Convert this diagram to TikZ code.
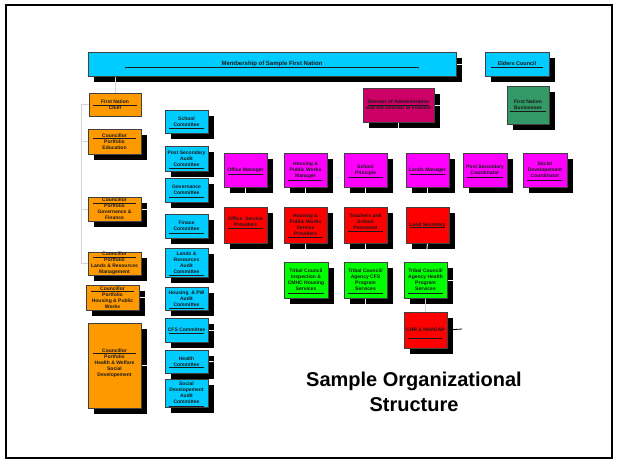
\documentclass[tikz,border=0pt]{standalone}
\usepackage{fontspec}
\setmainfont{Liberation Sans}
\pgfdeclarelayer{shadowlayer}
\pgfdeclarelayer{linelayer}
\pgfsetlayers{shadowlayer,linelayer,main}
\definecolor{cyanbox}{HTML}{00CCFF}
\definecolor{orangebox}{HTML}{FF9900}
\definecolor{magbox}{HTML}{FF00FF}
\definecolor{darkmag}{HTML}{CC0066}
\definecolor{darkgreen}{HTML}{339966}
\definecolor{redbox}{HTML}{FF0000}
\definecolor{greenbox}{HTML}{00FF00}
\definecolor{boxline}{HTML}{404040}
\newcommand\mkbox[7]{\node[box,fill=#2,minimum width=#5pt,minimum height=#6pt] (#1) at (#3,#4) {#7};}
\newcommand\ulbox[3]{\draw[uline] ([shift={(#3,-#2)}]#1.south west) -- ([shift={(-#3,-#2)}]#1.south east);}
\begin{document}
\begin{tikzpicture}[x=1pt,y=-1pt,
  box/.style={draw=boxline,line width=0.8pt,inner sep=0pt,align=center,
    font=\fontsize{5}{6}\selectfont\bfseries,text=black!90},
  uline/.style={line width=0.7pt,black!90},
  conn/.style={draw=gray!35,line width=0.8pt},
  wconn/.style={draw=white,line width=0.9pt},
  shadowfill/.style={fill=black}]
\useasboundingbox (0,0) rectangle (618,463);
\draw[line width=1.2pt] (6,5) rectangle (612,458);

% top row
\node[box,fill=cyanbox,minimum width=368pt,minimum height=24pt,font=\fontsize{6}{7}\selectfont\bfseries] (mem) at (272,64) {Membership of Sample First Nation};
\node[box,fill=cyanbox,minimum width=64pt,minimum height=24pt,font=\fontsize{5.5}{6.5}\selectfont\bfseries] (elders) at (517,64) {Elders Council};

% councillors
\mkbox{chief}{orangebox}{115}{104.5}{52}{23}{First Nation\\Chief}
\mkbox{edu}{orangebox}{114.5}{141.5}{53}{25}{Councillor\\Portfolio\\Education}
\mkbox{gov}{orangebox}{114.5}{209}{53}{24}{Councillor\\Portfolio\\Governance \&\\Finance}
\mkbox{lands}{orangebox}{114.5}{263.5}{53}{23}{Councillor\\Portfolio\\Lands \& Resources\\Management}
\mkbox{hous}{orangebox}{112.5}{297.5}{53}{25}{Councillor\\Portfolio\\Housing \& Public\\Works}
\mkbox{health}{orangebox}{114.5}{365.5}{53}{85}{Councillor\\Portfolio\\Health \& Welfare\\Social\\Developement\\~}

% committees
\mkbox{c1}{cyanbox}{186.5}{121.5}{43}{23}{School\\Committee}
\mkbox{c2}{cyanbox}{186.5}{158.5}{43}{25}{Post Secondary\\Audit\\Committee}
\mkbox{c3}{cyanbox}{186.5}{190}{43}{24}{Governance\\Committee}
\mkbox{c4}{cyanbox}{186.5}{226}{43}{24}{Finace\\Committee}
\mkbox{c5}{cyanbox}{186.5}{262.5}{43}{29}{Lands \&\\Resources\\Audit\\Committee}
\mkbox{c6}{cyanbox}{186.5}{298.5}{43}{23}{Housing \ \& PW\\Audit\\Committee}
\mkbox{c7}{cyanbox}{186.5}{330}{43}{24}{CFS Committee}
\mkbox{c8}{cyanbox}{186.5}{361.5}{43}{23}{Health\\Committee}
\mkbox{c9}{cyanbox}{186.5}{393}{43}{28}{Social\\Developement\\Audit\\Committee}

% administration
\mkbox{dir}{darkmag}{398.5}{105}{71}{34}{Director of Administration\\and the Director of Finance}
\mkbox{fnb}{darkgreen}{528}{105}{42}{38}{First Nation\\Businesses}

\mkbox{om}{magbox}{245.5}{170}{43}{34}{Office Manager}
\mkbox{hpw}{magbox}{305.5}{170}{43}{34}{Housing \&\\Public Works\\Manager}
\mkbox{sp}{magbox}{365.5}{170}{43}{34}{School\\Principle}
\mkbox{lm}{magbox}{427.5}{170}{43}{34}{Lands Manager}
\mkbox{psc}{magbox}{485}{170}{44}{34}{Post Secondary\\Coordinator}
\mkbox{sdc}{magbox}{545}{170}{44}{34}{Social\\Developement\\Coordinator}

\mkbox{osp}{redbox}{245.5}{225}{43}{36}{Office \ Service\\Providers\\~}
\mkbox{hsp}{redbox}{305.5}{225}{43}{36}{Housing \&\\Public Works\\Service\\Providers}
\mkbox{tsp}{redbox}{365.5}{225}{43}{36}{Teachers and\\School\\Personnel\\~}
\mkbox{ls}{redbox}{427.5}{225}{43}{36}{Land Secretary}

\mkbox{tci}{greenbox}{306}{280}{44}{36}{Tribal Council\\Inspection \&\\CMHC Housing\\Services}
\mkbox{tcc}{greenbox}{365.5}{280}{43}{36}{Tribal Council/\\Agency CFS\\Program\\Services}
\mkbox{tch}{greenbox}{425.5}{280}{43}{36}{Tribal Council/\\Agency Health\\Program\\Services}
\mkbox{chr}{redbox}{425.5}{330}{43}{36}{CHR \& NNADAP}

% title
\node[font=\fontsize{20}{25}\selectfont\bfseries,align=center] (title) at (414,392) {Sample Organizational\\Structure};

% underlines
\ulbox{mem}{9}{37}
\ulbox{elders}{9}{6}
\ulbox{chief}{11}{4}
\ulbox{edu}{16}{5}
\ulbox{gov}{18}{5}
\ulbox{lands}{18}{5}
\ulbox{hous}{19}{5}
\ulbox{health}{55}{5}
\ulbox{c1}{5}{4}
\ulbox{c2}{3}{4}
\ulbox{c3}{5}{4}
\ulbox{c4}{5}{4}
\ulbox{c5}{2}{4}
\ulbox{c6}{2}{4}
\ulbox{c7}{9}{4}
\ulbox{c8}{6}{4}
\ulbox{c9}{1.5}{4}
\ulbox{dir}{17}{5}
\ulbox{fnb}{13}{3}
\ulbox{om}{13}{4}
\ulbox{hpw}{7}{4}
\ulbox{sp}{10}{4}
\ulbox{lm}{13}{4}
\ulbox{psc}{10}{4}
\ulbox{sdc}{7}{4}
\ulbox{osp}{15}{4}
\ulbox{hsp}{6}{4}
\ulbox{tsp}{12}{4}
\ulbox{ls}{16}{4}
\ulbox{tci}{5}{4}
\ulbox{tcc}{5}{4}
\ulbox{tch}{5}{4}
\ulbox{chr}{10}{4}

% connectors
\coordinate (bx) at (81,104);
\coordinate (cstub1) at (220,330);
\coordinate (cstub2) at (220,362);
\coordinate (dbus) at (398.5,140);
\coordinate (tccend) at (365.5,306);
\coordinate (tchend) at (458,280);
\coordinate (chrend) at (462,329);
\begin{pgfonlayer}{linelayer}
\draw[conn] (chief.north |- mem.south) -- (chief.north);
\draw[conn] (chief.west) -- (chief.west -| bx) -- (lands.west -| bx) -- (lands.west);
\draw[conn] (edu.west -| bx) -- (edu.west);
\draw[conn] (gov.west -| bx) -- (gov.west);
\draw[wconn] (mem.east) -- (elders.west);
\draw[wconn] (gov.east) -- (gov.east -| c4.west);
\draw[wconn] (hous.east) -- (hous.east -| c6.west);
\draw[wconn] (health.east) -- (health.east -| c8.west);
\draw[wconn] (c7.east) -- (cstub1);
\draw[wconn] (c8.east) -- (cstub2);
\draw[wconn] (dir.south) -- (dbus);
\draw[wconn] (dir.east) -- (fnb.west);
\draw[wconn] (om.south) -- (osp.north);
\draw[wconn] (hpw.south) -- (hsp.north);
\draw[wconn] (sp.south) -- (tsp.north);
\draw[wconn] (lm.south) -- (ls.north);
\draw[wconn] (hsp.south) -- (tci.north);
\draw[wconn] (tsp.south) -- (tcc.north);
\draw[wconn] (ls.south) -- (tch.north);
\draw[wconn] (tcc.south) -- (tccend);
\draw[wconn] (tch.east) -- (tchend);
\draw[conn] (tch.south) -- (chr.north);
\draw[line width=0.8pt,black] (chr.east) -- (chrend);
\end{pgfonlayer}

% shadows
\begin{pgfonlayer}{shadowlayer}
\foreach \n in {mem,elders,edu,gov,lands,hous,health,c1,c2,c3,c4,c5,c6,c7,c8,c9,dir,fnb,om,hpw,sp,lm,psc,sdc,osp,hsp,tsp,ls,tci,tcc,tch,chr}{
  \fill[shadowfill] ([shift={(6,6)}]\n.north west) rectangle ([shift={(6,6)}]\n.south east);
}
\end{pgfonlayer}
\end{tikzpicture}
\end{document}
